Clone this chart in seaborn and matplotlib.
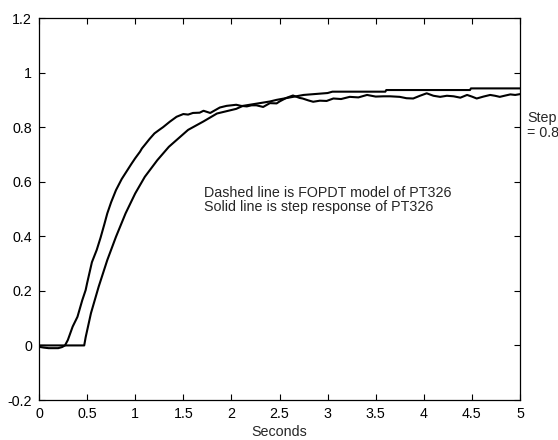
import matplotlib
matplotlib.use("Agg")
import matplotlib.pyplot as plt
import seaborn as sns
import pandas as pd
from matplotlib.ticker import FuncFormatter

# FOPDT model (smooth, dead time ~0.47 s)
model_t = [0, 0.47, 0.485, 0.54, 0.62, 0.71, 0.80, 0.90, 1.00, 1.10, 1.23, 1.35,
           1.55, 1.71, 1.85, 2.05, 2.12, 2.40, 2.47, 2.75, 3.00, 3.05, 3.60, 3.61,
           4.48, 4.49, 5.00]
model_y = [0, 0, 0.03, 0.118, 0.215, 0.313, 0.398, 0.484, 0.557, 0.618, 0.679, 0.728,
           0.790, 0.821, 0.850, 0.867, 0.878, 0.894, 0.900, 0.918, 0.925, 0.930, 0.930, 0.936,
           0.936, 0.942, 0.942]

# measured step response of PT326 (noisy)
resp_t = [0, 0.05, 0.10, 0.15, 0.20, 0.24, 0.27, 0.30, 0.35, 0.40, 0.45, 0.485, 0.50,
          0.55, 0.60, 0.64, 0.68, 0.71, 0.75, 0.80, 0.86, 0.92, 0.96, 1.00, 1.05, 1.07,
          1.10, 1.15, 1.20, 1.25, 1.29, 1.36, 1.43, 1.50, 1.55, 1.60, 1.67, 1.71, 1.78,
          1.83, 1.88, 1.95, 2.05, 2.10, 2.16, 2.21, 2.26, 2.33, 2.40, 2.47, 2.50, 2.57,
          2.64, 2.71, 2.74, 2.80, 2.85, 2.92, 2.99, 3.06, 3.14, 3.23, 3.32, 3.41, 3.50,
          3.58, 3.65, 3.75, 3.82, 3.89, 3.96, 4.03, 4.10, 4.17, 4.24, 4.31, 4.38, 4.45,
          4.50, 4.55, 4.62, 4.69, 4.74, 4.79, 4.85, 4.90, 4.95, 5.00]
resp_y = [-0.005, -0.008, -0.010, -0.010, -0.010, -0.006, 0.000, 0.020, 0.069, 0.105,
          0.166, 0.203, 0.228, 0.305, 0.350, 0.395, 0.445, 0.484, 0.525, 0.569, 0.610,
          0.643, 0.665, 0.686, 0.710, 0.722, 0.735, 0.757, 0.777, 0.790, 0.800, 0.820,
          0.838, 0.848, 0.846, 0.852, 0.853, 0.860, 0.852, 0.862, 0.872, 0.878, 0.882,
          0.878, 0.876, 0.880, 0.880, 0.874, 0.888, 0.887, 0.894, 0.907, 0.916, 0.907,
          0.905, 0.898, 0.893, 0.897, 0.896, 0.905, 0.903, 0.911, 0.909, 0.918, 0.912,
          0.913, 0.913, 0.911, 0.906, 0.905, 0.915, 0.924, 0.915, 0.911, 0.915, 0.913,
          0.908, 0.918, 0.912, 0.905, 0.912, 0.918, 0.915, 0.911, 0.916, 0.920, 0.918,
          0.921]

x_ticks = [0, 0.5, 1, 1.5, 2, 2.5, 3, 3.5, 4, 4.5, 5]
y_ticks = [-0.2, 0, 0.2, 0.4, 0.6, 0.8, 1.0, 1.2]

sns.set_style("ticks")
plt.rcParams['font.family'] = ['Liberation Sans', 'DejaVu Sans']

model = pd.DataFrame({'t': model_t, 'y': model_y})
resp = pd.DataFrame({'t': resp_t, 'y': resp_y})

fig = plt.figure(figsize=(5.58, 4.40), dpi=100)
ax = fig.add_axes([39 / 558, 40 / 440, 481 / 558, 382 / 440])

sns.lineplot(data=model, x='t', y='y', ax=ax, color='black', linewidth=1.5,
             estimator=None, sort=False)
sns.lineplot(data=resp, x='t', y='y', ax=ax, color='black', linewidth=1.5,
             estimator=None, sort=False)

ax.set_xlim(0, 5)
ax.set_ylim(-0.2, 1.2)
ax.set_xticks(x_ticks)
ax.set_yticks(y_ticks)
fmt = FuncFormatter(lambda v, p: ('%g' % round(v, 2)))
ax.xaxis.set_major_formatter(fmt)
ax.yaxis.set_major_formatter(fmt)
ax.tick_params(direction='in', length=4, width=0.8, labelsize=10.3, colors='black',
               top=True, right=True, pad=5)
for s in ax.spines.values():
    s.set_visible(True)
    s.set_linewidth(0.9)
    s.set_color('black')

ax.set_xlabel('Seconds', fontsize=10.3, labelpad=3)
ax.set_ylabel('')

ax.text(1.72, 0.585, 'Dashed line is FOPDT model of PT326\nSolid line is step response of PT326',
        fontsize=10.3, va='top', ha='left', linespacing=1.05)
fig.text(527 / 558, 1 - 111 / 440, 'Step\n= 0.8', fontsize=10.3, va='top', ha='left',
         linespacing=1.05)

fig.savefig('out.png', dpi=100)
